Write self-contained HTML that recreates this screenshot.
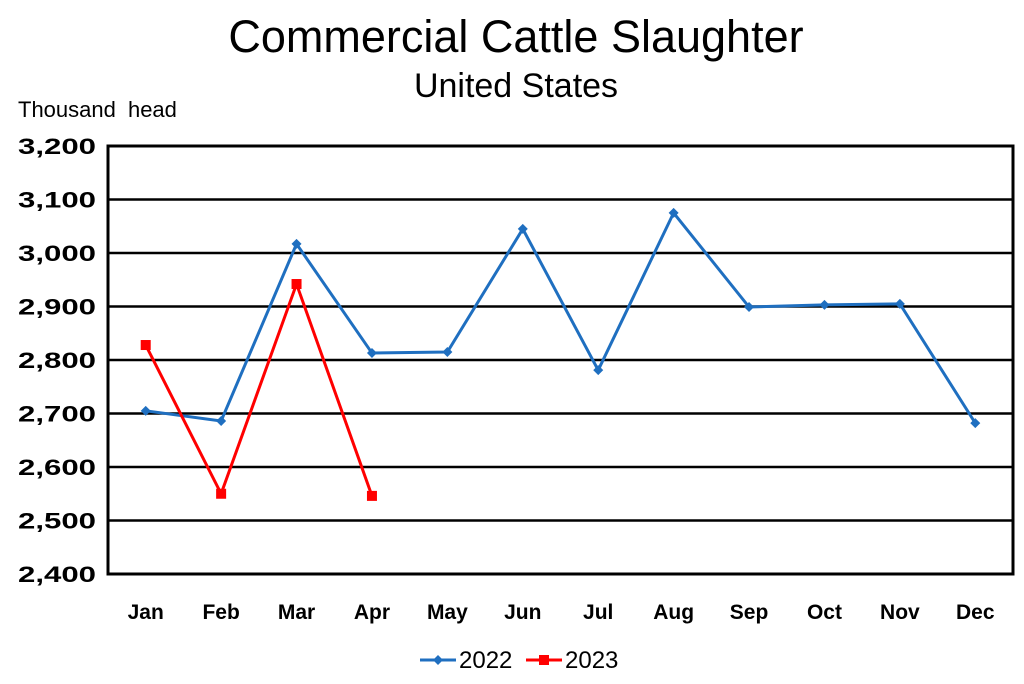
<!DOCTYPE html>
<html><head><meta charset="utf-8"><style>
body{margin:0;background:#fff;font-family:"Liberation Sans",Arial,sans-serif}
svg{display:block}
</style></head><body>
<svg id="chart" width="1024" height="684">
<text x="516" y="52" font-size="45" text-anchor="middle" fill="#000">Commercial Cattle Slaughter</text>
<text x="516" y="97" font-size="34" text-anchor="middle" fill="#000">United States</text>
<text x="18" y="117" font-size="22" word-spacing="6" fill="#000">Thousand head</text>
<g id="grid"></g>
<g id="yticks"></g>
<g id="xticks"></g>
<rect x="108" y="146" width="905" height="428" fill="none" stroke="#000" stroke-width="3"/>
<g id="series"></g>
<g>
<g>
<line x1="420" y1="660" x2="456" y2="660" stroke="#1f6fc0" stroke-width="3"/>
<path d="M438 655 L443 660 L438 665 L433 660Z" fill="#1f6fc0"/>
<text x="459" y="668" font-size="24">2022</text></g>
<g>
<line x1="526" y1="660" x2="562" y2="660" stroke="#ff0000" stroke-width="3"/>
<rect x="539" y="655" width="10" height="10" fill="#ff0000"/>
<text x="565" y="668" font-size="24">2023</text></g>
</g>
</svg>
<script>
const months=["Jan","Feb","Mar","Apr","May","Jun","Jul","Aug","Sep","Oct","Nov","Dec"];
const values2022=[2705,2686,3017,2813,2815,3045,2781,3075,2899,2903,2905,2682];
const values2023=[2828,2550,2942,2546];
const yTicks=[2400,2500,2600,2700,2800,2900,3000,3100,3200];
const yTickLabels=["2,400","2,500","2,600","2,700","2,800","2,900","3,000","3,100","3,200"];
const NS="http://www.w3.org/2000/svg";
const L=108,R=1013,T=146,B=574,yMin=2400,yMax=3200;
const step=(R-L)/months.length;
const xs=i=>L+step*(i+0.5);
const ys=v=>B-(v-yMin)/(yMax-yMin)*(B-T);
function mk(tag,attrs,parent){const e=document.createElementNS(NS,tag);for(const k in attrs)e.setAttribute(k,attrs[k]);parent.appendChild(e);return e;}
const grid=document.getElementById('grid'),yt=document.getElementById('yticks'),xt=document.getElementById('xticks'),ser=document.getElementById('series');
yTicks.forEach((v,i)=>{
 const l=mk('line',{x1:L,x2:R,y1:ys(v),y2:ys(v),stroke:'#000','stroke-width':2.5},grid);
 
 
 const t=mk('text',{x:18,y:ys(v)+8,'font-size':22,'font-weight':'bold',textLength:78,lengthAdjust:'spacingAndGlyphs'},yt);
 t.textContent=yTickLabels[i];
 
 
});
months.forEach((m,i)=>{
 const t=mk('text',{x:xs(i),y:619,'font-size':21,'font-weight':'bold','text-anchor':'middle'},xt);
 t.textContent=m;
 
 
});
function draw(vals,color,square,name){
 const p=mk('polyline',{points:vals.map((v,i)=>xs(i)+','+ys(v)).join(' '),fill:'none',stroke:color,'stroke-width':3},ser);
 
 
 vals.forEach((v,i)=>{
  const x=xs(i),y=ys(v);let m;
  if(square)m=mk('rect',{x:x-5,y:y-5,width:10,height:10,fill:color},ser);
  else m=mk('path',{d:`M${x} ${y-5}L${x+5} ${y}L${x} ${y+5}L${x-5} ${y}Z`,fill:color},ser);
  
  
 });
}
draw(values2022,'#1f6fc0',false,'series-2022');
draw(values2023,'#ff0000',true,'series-2023');
</script>
</body></html>
